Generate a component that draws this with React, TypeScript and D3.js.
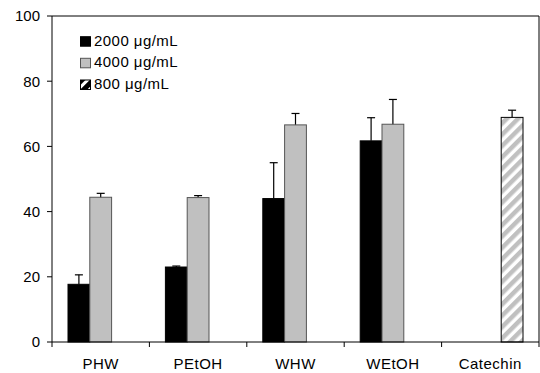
import React from "react";
import * as d3 from "d3";

const categories = ["PHW", "PEtOH", "WHW", "WEtOH", "Catechin"];
const seriesNames = ["2000 μg/mL", "4000 μg/mL", "800 μg/mL"];
const s2000: (number | null)[] = [17.7, 23.0, 44.0, 61.7, null];
const s2000ErrUp: number[] = [2.9, 0.3, 11.0, 7.1, 0];
const s4000: (number | null)[] = [44.4, 44.3, 66.6, 66.8, null];
const s4000ErrUp: number[] = [1.2, 0.6, 3.5, 7.6, 0];
const s4000ErrDown: number[] = [1.0, 0.6, 0.9, 0.8, 0];
const s800: (number | null)[] = [null, null, null, null, 68.9];
const s800ErrUp: number[] = [0, 0, 0, 0, 2.2];
const s800ErrDown: number[] = [0, 0, 0, 0, 0.9];
const yTicks = [0, 20, 40, 60, 80, 100];

export default function App() {
  const W = 540, H = 373;
  const left = 52, right = 539, top = 16, bottom = 342;
  const x = d3.scaleBand<string>().domain(categories).range([left, right]).paddingInner(0).paddingOuter(0);
  const y = d3.scaleLinear().domain([0, 100]).range([bottom, top]);
  const bw = 21.8;
  const font = "Arial, 'Liberation Sans', sans-serif";
  const series = [
    { vals: s2000, up: s2000ErrUp, down: s2000ErrUp.map(() => 0), fill: "#000", stroke: "#000" },
    { vals: s4000, up: s4000ErrUp, down: s4000ErrDown, fill: "#c0c0c0", stroke: "#555" },
    { vals: s800, up: s800ErrUp, down: s800ErrDown, fill: "url(#hatch)", stroke: "#000" },
  ];
  const bars: React.ReactNode[] = [];
  const errs: React.ReactNode[] = [];
  categories.forEach((c, ci) => {
    const cx = x(c)! + x.bandwidth() / 2;
    series.forEach((s, si) => {
      const v = s.vals[ci];
      if (v == null) return;
      const x0 = cx - 1.5 * bw + si * bw;
      bars.push(
        <rect key={`b${ci}-${si}`} x={x0} y={y(v)} width={bw} height={y(0) - y(v)}
          fill={s.fill} stroke={s.stroke} strokeWidth={1} />
      );
      const mx = x0 + bw / 2;
      const yt = y(v + s.up[ci]);
      const yb = y(v - s.down[ci]);
      errs.push(
        <g key={`e${ci}-${si}`} stroke="#000" strokeWidth={1.2}>
          <line x1={mx} x2={mx} y1={yt} y2={yb} />
          <line x1={mx - 4} x2={mx + 4} y1={yt} y2={yt} />
          {s.down[ci] > 0 && <line x1={mx - 4} x2={mx + 4} y1={yb} y2={yb} />}
        </g>
      );
    });
  });
  const legendBase = [45.7, 67.3, 89];
  const legendFills = ["#000", "#c0c0c0", "url(#hatchLeg)"];
  return (
    <svg width={W} height={H} style={{ position: "absolute", left: 0, top: 0 }}>
      <defs>
        <pattern id="hatch" patternUnits="userSpaceOnUse" width="8" height="8" patternTransform="rotate(45)">
          <rect width="8" height="8" fill="#fff" />
          <rect width="4.5" height="8" fill="#c0c0c0" />
        </pattern>
        <pattern id="hatchLeg" patternUnits="userSpaceOnUse" width="8" height="8" patternTransform="rotate(45)">
          <rect width="8" height="8" fill="#fff" />
          <rect width="5" height="8" fill="#000" />
        </pattern>
      </defs>
      <rect x={0} y={0} width={W} height={H} fill="#fff" />
      <line x1={left} x2={right} y1={top} y2={top} stroke="#000" strokeWidth={1} />
      <line x1={right} x2={right} y1={top} y2={bottom} stroke="#000" strokeWidth={1} />
      {errs}
      {bars}
      <line x1={left} x2={left} y1={top} y2={bottom} stroke="#000" strokeWidth={1} />
      <line x1={left} x2={right} y1={bottom} y2={bottom} stroke="#000" strokeWidth={1} />
      {yTicks.map((t) => (
        <g key={`yt${t}`}>
          <line x1={left - 5} x2={left} y1={y(t)} y2={y(t)} stroke="#000" />
          <text x={left - 12} y={y(t)} dy="0.36em" textAnchor="end" fontFamily={font} fontSize={15}>{t}</text>
        </g>
      ))}
      {[...categories.map((c) => x(c)!), right].map((px, i) => (
        <line key={`xt${i}`} x1={px} x2={px} y1={bottom} y2={bottom + 5} stroke="#000" />
      ))}
      {categories.map((c) => (
        <text key={`xl${c}`} x={x(c)! + x.bandwidth() / 2} y={369} textAnchor="middle" fontFamily={font} fontSize={15} letterSpacing={0.5}>{c}</text>
      ))}
      {seriesNames.map((n, i) => (
        <g key={`lg${i}`}>
          <rect x={80.5} y={legendBase[i] - 9} width={10} height={9.5} fill={legendFills[i]} stroke={i === 1 ? "#555" : "#000"} />
          <text x={94} y={legendBase[i]} fontFamily={font} fontSize={15} letterSpacing={0.45}>{n}</text>
        </g>
      ))}
    </svg>
  );
}
